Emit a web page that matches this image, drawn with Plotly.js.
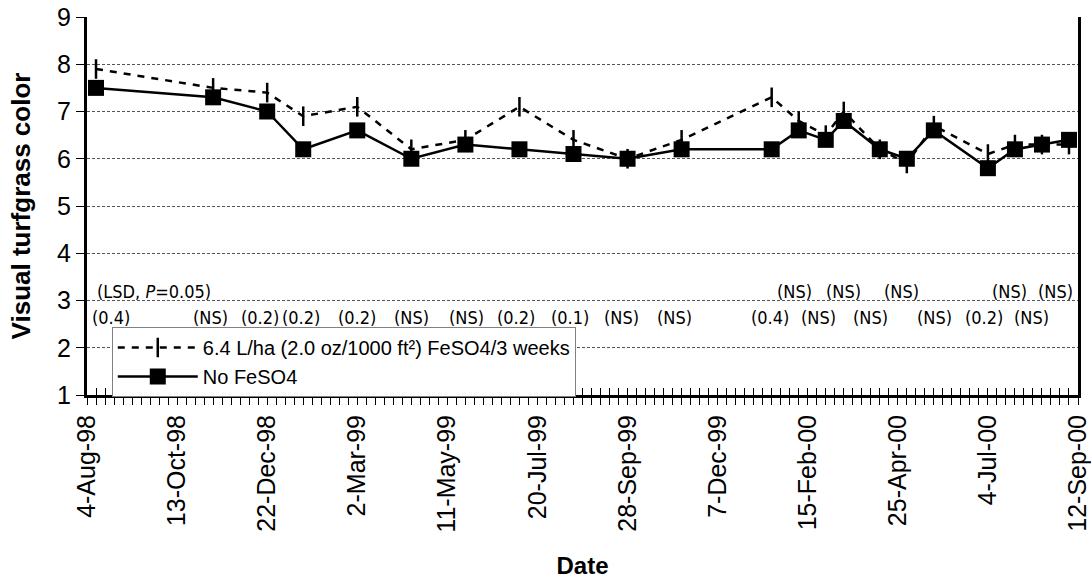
<!DOCTYPE html>
<html>
<head>
<meta charset="utf-8">
<script src="https://cdn.plot.ly/plotly-3.0.1.min.js"></script>
<style>
html,body{margin:0;padding:0;background:#fff;}
#chart{width:1091px;height:581px;}
</style>
</head>
<body>
<div id="chart"></div>
<script>
// ---- data ----
const dates = ['1998-08-11','1998-11-10','1998-12-22','1999-01-19','1999-03-02','1999-04-13','1999-05-25','1999-07-06','1999-08-17','1999-09-28','1999-11-09','2000-01-18','2000-02-08','2000-02-29','2000-03-14','2000-04-11','2000-05-02','2000-05-23','2000-07-04','2000-07-25','2000-08-15','2000-09-05'];
const withFeSO4 = [7.9,7.5,7.4,6.9,7.1,6.2,6.4,7.1,6.4,6.0,6.4,7.3,6.8,6.5,7.0,6.2,5.9,6.7,6.1,6.3,6.3,6.3];
const noFeSO4 = [7.5,7.3,7.0,6.2,6.6,6.0,6.3,6.2,6.1,6.0,6.2,6.2,6.6,6.4,6.8,6.2,6.0,6.6,5.8,6.2,6.3,6.4];
const lsd = ['(0.4)','(NS)','(0.2)','(0.2)','(0.2)','(NS)','(NS)','(0.2)','(0.1)','(NS)','(NS)','(0.4)','(NS)','(NS)','(NS)','(NS)','(NS)','(NS)','(0.2)','(NS)','(NS)','(NS)'];
const seriesNames = ['6.4 L/ha (2.0 oz/1000 ft²) FeSO4/3 weeks','No FeSO4'];
const xTitle = 'Date';
const yTitle = 'Visual turfgrass color';
const lsdHeader = '(LSD, <i>P</i>=0.05)';
const xStart = '1998-08-04', xEnd = '2000-09-12';

// ---- styling ----
const DAY = 86400000;
const upperRow = [12,14,16,19,21];
const shifts = [15,-3,-7,-2,0,0,1,-3,-3,-6,-7,-2,-4,-7,0,-9,-5,1,-4,-5,-10,-13];
const narrow = 'Liberation Sans Narrow, DejaVu Sans Condensed, Arial, sans-serif';
const arial = 'Arial, Liberation Sans, sans-serif';

const traces = [
  {x: dates, y: withFeSO4, name: seriesNames[0], type: 'scatter', mode: 'lines+markers',
   line: {color: '#000', width: 2.5, dash: '7px,7px'},
   marker: {symbol: 'line-ns-open', size: 14, color: '#000', line: {color: '#000', width: 2.5}}},
  {x: dates, y: noFeSO4, name: seriesNames[1], type: 'scatter', mode: 'lines+markers',
   line: {color: '#000', width: 2.5},
   marker: {symbol: 'square', size: 16, color: '#000'}}
];

const annotations = lsd.map((t, i) => ({
  x: dates[i], y: upperRow.includes(i) ? 3.2 : 2.63, xref: 'x', yref: 'y',
  text: t, showarrow: false, xshift: shifts[i],
  font: {family: narrow, size: 18, color: '#000'}
}));
annotations.push({x: 0.008, xref: 'paper', y: 3.2, yref: 'y', xanchor: 'left',
  text: lsdHeader, showarrow: false, font: {family: narrow, size: 18, color: '#000'}});

const layout = {
  width: 1091, height: 581,
  margin: {l: 87, r: 13, t: 17, b: 186},
  paper_bgcolor: '#fff', plot_bgcolor: '#fff',
  font: {family: arial, color: '#000'},
  showlegend: true,
  legend: {x: 0.025, y: 0.18, xanchor: 'left', yanchor: 'top',
    bgcolor: '#fff', bordercolor: '#808080', borderwidth: 1,
    itemwidth: 80,
    font: {family: arial, size: 20, color: '#000'}, tracegroupgap: 0},
  xaxis: {
    type: 'date', range: [xStart, xEnd], tick0: xStart, dtick: 70*DAY,
    tickformat: '%-d-%b-%y', tickangle: -90, ticklabeloverflow: 'allow',
    tickfont: {family: arial, size: 25, color: '#000'},
    ticks: 'outside', ticklen: 7, tickwidth: 1, tickcolor: '#000',
    minor: {tick0: xStart, dtick: 7*DAY, ticks: 'outside', ticklen: 7, tickwidth: 1, tickcolor: '#000', showgrid: false},
    showline: true, linecolor: '#000', linewidth: 3, mirror: false,
    showgrid: false, zeroline: false,
    title: {text: '<b>' + xTitle + '</b>', font: {family: arial, size: 24, color: '#000'}, standoff: 26}
  },
  xaxis2: {
    type: 'date', overlaying: 'x', matches: 'x', anchor: 'y', side: 'bottom',
    range: [xStart, xEnd], tick0: xStart, dtick: 70*DAY,
    showticklabels: false, ticks: 'inside', ticklen: 7, tickwidth: 1, tickcolor: '#000',
    minor: {tick0: xStart, dtick: 7*DAY, ticks: 'inside', ticklen: 7, tickwidth: 1, tickcolor: '#000', showgrid: false},
    showline: false, showgrid: false, zeroline: false
  },
  yaxis: {
    range: [1, 9], dtick: 1, tick0: 1,
    tickfont: {family: arial, size: 25, color: '#000'},
    ticks: 'outside', ticklen: 8, tickwidth: 1, tickcolor: '#000',
    showline: true, linecolor: '#000', linewidth: 3, mirror: true,
    showgrid: true, gridcolor: '#555', gridwidth: 1, griddash: '3px,2px',
    zeroline: false,
    title: {text: '<b>' + yTitle + '</b>', font: {family: arial, size: 26, color: '#000'}, standoff: 19}
  },
  annotations: annotations
};

// dummy trace so the overlaying axis draws its inside ticks
traces.push({x: [xStart], y: [null], xaxis: 'x2', yaxis: 'y', showlegend: false, hoverinfo: 'skip', mode: 'markers'});

Plotly.newPlot('chart', traces, layout, {displayModeBar: false, staticPlot: true});
</script>
</body>
</html>
